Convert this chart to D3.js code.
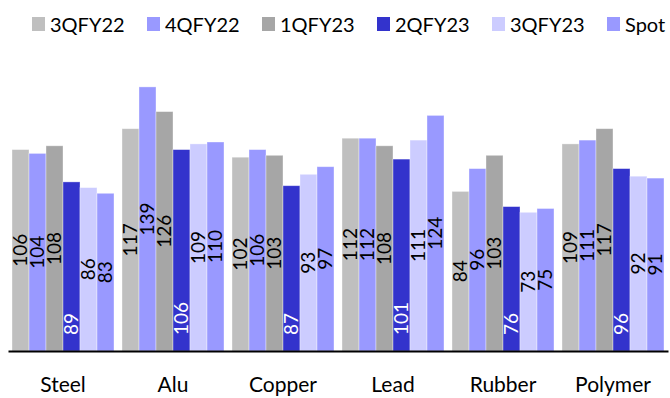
<!DOCTYPE html>
<html>
<head>
<meta charset="utf-8">
<script src="https://cdn.jsdelivr.net/npm/d3@7"></script>
<style>
  html, body { margin: 0; padding: 0; background: #fff; }
  svg { display: block; font-family: Lato, "Open Sans", sans-serif; }
</style>
</head>
<body>
<svg id="chart" width="670" height="398"></svg>
<script>
// Commodity price index by quarter
const categories = ["Steel", "Alu", "Copper", "Lead", "Rubber", "Polymer"];
const seriesNames = ["3QFY22", "4QFY22", "1QFY23", "2QFY23", "3QFY23", "Spot"];
const seriesColors = ["#BFBFBF", "#9999FF", "#A6A6A6", "#3333CC", "#CCCCFF", "#9999FF"];

const q3fy22 = [106, 117, 102, 112, 84, 109];
const q4fy22 = [104, 139, 106, 112, 96, 111];
const q1fy23 = [108, 126, 103, 108, 103, 117];
const q2fy23 = [89, 106, 87, 101, 76, 96];
const q3fy23 = [86, 109, 93, 111, 73, 92];
const spot   = [83, 110, 97, 124, 75, 91];

const seriesValues = [q3fy22, q4fy22, q1fy23, q2fy23, q3fy23, spot];

const svg = d3.select("#chart");
const baseY = 351;

const x = d3.scaleBand()
  .domain(categories)
  .range([8, 668])
  .paddingInner(0.0727)
  .paddingOuter(0.0364);

const xs = d3.scaleBand()
  .domain(seriesNames)
  .range([0, x.bandwidth()]);

const y = d3.scaleLinear()
  .domain([0, 160])
  .range([baseY, baseY - 160 * 1.9]);

// flatten into one record per bar
const bars = [];
seriesNames.forEach((s, si) => {
  categories.forEach((c, ci) => {
    bars.push({ series: s, si, cat: c, value: seriesValues[si][ci] });
  });
});

const gBars = svg.append("g");
gBars.selectAll("rect")
  .data(bars)
  .join("rect")
  .attr("x", d => x(d.cat) + xs(d.series))
  .attr("width", xs.bandwidth())
  .attr("y", d => y(d.value))
  .attr("height", d => y(0) - y(d.value))
  .attr("fill", d => seriesColors[d.si])
  .attr("stroke", "#ffffff")
  .attr("stroke-opacity", 0.45)
  .attr("stroke-width", 0.8);

// value labels, rotated; the 2QFY23 series sits at the base in white
const gLabels = svg.append("g");
gLabels.selectAll("text")
  .data(bars)
  .join("text")
  .attr("transform", d => {
    const cx = x(d.cat) + xs(d.series) + xs.bandwidth() / 2;
    const cy = d.si === 3 ? baseY - 16 : (y(d.value) + y(0)) / 2;
    return `translate(${cx},${cy}) rotate(-90)`;
  })
  .attr("text-anchor", d => d.si === 3 ? "start" : "middle")
  .attr("dy", "0.36em")
  .attr("font-size", 19)
  .attr("fill", d => d.si === 3 ? "#ffffff" : "#000000")
  .text(d => d.value);

// category axis
const xAxis = svg.append("g")
  .attr("transform", `translate(0,${baseY})`)
  .call(d3.axisBottom(x).tickSize(0).tickSizeOuter(0).tickPadding(26));
xAxis.select(".domain").attr("stroke", "#000").attr("stroke-width", 2);
xAxis.selectAll("text")
  .attr("font-size", 21)
  .attr("font-family", "Lato, 'Open Sans', sans-serif")
  .attr("fill", "#000");

// legend
const legend = svg.append("g");
const lx = d3.scalePoint().domain(seriesNames).range([32, 607]);
const items = legend.selectAll("g")
  .data(seriesNames)
  .join("g")
  .attr("transform", d => `translate(${lx(d)},17)`);
items.append("rect")
  .attr("width", 13)
  .attr("height", 14)
  .attr("fill", (d, i) => seriesColors[i]);
items.append("text")
  .attr("x", 18)
  .attr("y", 15)
  .attr("font-size", 20)
  .attr("fill", "#000")
  .text(d => d);
</script>
</body>
</html>
